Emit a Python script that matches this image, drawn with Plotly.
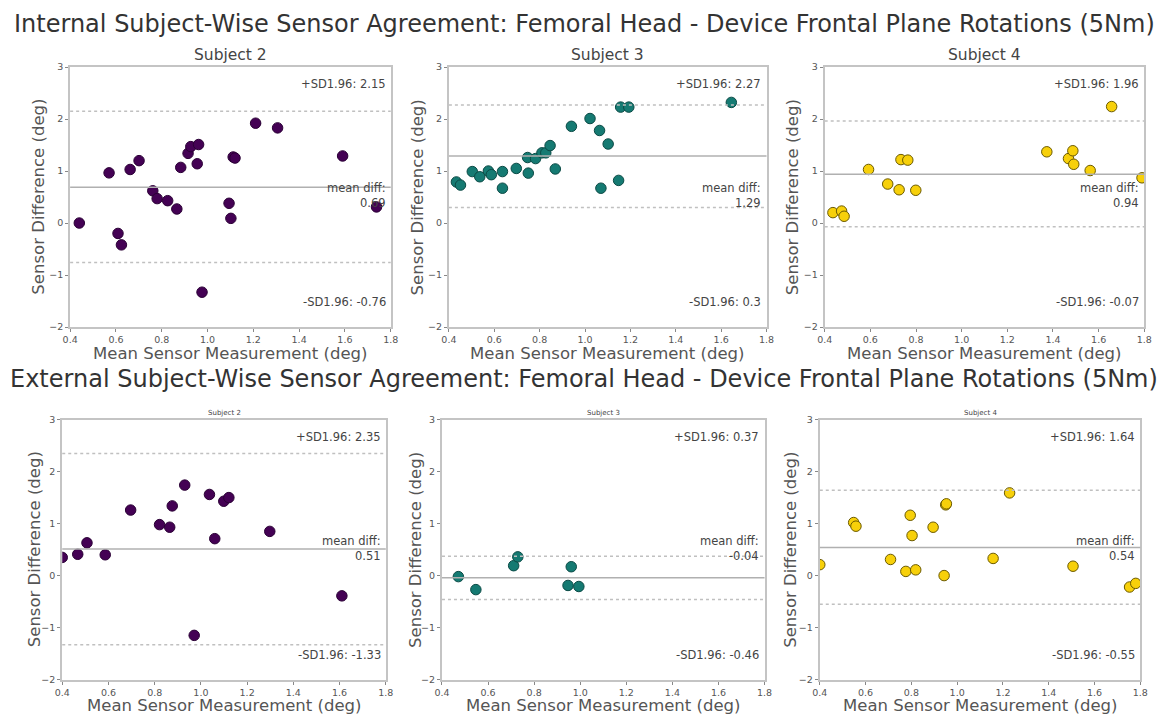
import plotly.graph_objects as go

# ---------------- data ----------------
int_s2_x = [0.44, 0.57, 0.609, 0.624, 0.662, 0.701, 0.761, 0.78, 0.826, 0.866, 0.883, 0.915, 0.927,
            0.961, 0.955, 0.976, 1.094, 1.102, 1.112, 1.12, 1.21, 1.306, 1.59, 1.738]
int_s2_y = [0.0, 0.965, -0.20, -0.42, 1.03, 1.20, 0.62, 0.47, 0.43, 0.27, 1.07, 1.34, 1.47,
            1.51, 1.14, -1.33, 0.38, 0.09, 1.27, 1.25, 1.92, 1.83, 1.29, 0.31]

int_s3_x = [0.433, 0.451, 0.503, 0.536, 0.574, 0.587, 0.636, 0.636, 0.697, 0.747, 0.750, 0.782,
            0.810, 0.827, 0.846, 0.869, 0.940, 1.022, 1.064, 1.070, 1.102, 1.148, 1.157, 1.193, 1.645]
int_s3_y = [0.79, 0.73, 0.99, 0.89, 1.00, 0.93, 0.99, 0.67, 1.05, 1.26, 0.96, 1.24,
            1.35, 1.35, 1.49, 1.04, 1.86, 2.01, 1.78, 0.67, 1.52, 0.82, 2.23, 2.23, 2.32]

int_s4_x = [0.436, 0.474, 0.485, 0.592, 0.676, 0.726, 0.734, 0.764, 0.799, 1.373, 1.468, 1.487,
            1.491, 1.563, 1.657, 1.79]
int_s4_y = [0.20, 0.23, 0.13, 1.03, 0.75, 0.64, 1.22, 1.21, 0.63, 1.37, 1.24, 1.39,
            1.13, 1.01, 2.24, 0.87]

ext_s2_x = [0.40, 0.467, 0.507, 0.586, 0.696, 0.821, 0.865, 0.876, 0.93, 0.971, 1.037, 1.06,
            1.099, 1.121, 1.298, 1.61]
ext_s2_y = [0.35, 0.41, 0.63, 0.40, 1.26, 0.98, 0.93, 1.34, 1.74, -1.15, 1.56, 0.71,
            1.43, 1.50, 0.85, -0.39]

ext_s3_x = [0.471, 0.547, 0.711, 0.729, 0.947, 0.961, 0.994]
ext_s3_y = [-0.02, -0.27, 0.19, 0.36, -0.19, 0.17, -0.21]

ext_s4_x = [0.40, 0.548, 0.558, 0.709, 0.776, 0.795, 0.803, 0.819, 0.895, 0.943, 0.95, 0.953,
            1.157, 1.229, 1.506, 1.753, 1.78]
ext_s4_y = [0.21, 1.02, 0.95, 0.31, 0.08, 1.16, 0.77, 0.11, 0.93, 0.00, 1.36, 1.38,
            0.33, 1.59, 0.18, -0.22, -0.15]

subjects = ["Subject 2", "Subject 3", "Subject 4"]
int_mean = [0.69, 1.29, 0.94]
int_upper = [2.15, 2.27, 1.96]
int_lower = [-0.76, 0.3, -0.07]
ext_mean = [0.51, -0.04, 0.54]
ext_upper = [2.35, 0.37, 1.64]
ext_lower = [-1.33, -0.46, -0.55]

title_int = "Internal Subject-Wise Sensor Agreement: Femoral Head - Device Frontal Plane Rotations (5Nm)"
title_ext = "External Subject-Wise Sensor Agreement: Femoral Head - Device Frontal Plane Rotations (5Nm)"
x_tick_vals = [0.4, 0.6, 0.8, 1.0, 1.2, 1.4, 1.6, 1.8]
y_tick_vals = [-2, -1, 0, 1, 2, 3]

# ---------------- layout geometry ----------------
W, H = 1173, 721
colors = ["#440154", "#157a72", "#f7d00a"]
edge_colors = ["#2a0035", "#0b4a45", "#6b5a00"]

panels = [
    (int_s2_x, int_s2_y, int_mean[0], int_upper[0], int_lower[0], 0, 63, 388, 62, 326, False),
    (int_s3_x, int_s3_y, int_mean[1], int_upper[1], int_lower[1], 1, 447, 769, 62, 326, False),
    (int_s4_x, int_s4_y, int_mean[2], int_upper[2], int_lower[2], 2, 828, 1152, 62, 326, False),
    (ext_s2_x, ext_s2_y, ext_mean[0], ext_upper[0], ext_lower[0], 0, 55, 383, 420, 684, True),
    (ext_s3_x, ext_s3_y, ext_mean[1], ext_upper[1], ext_lower[1], 1, 440, 767, 420, 684, True),
    (ext_s4_x, ext_s4_y, ext_mean[2], ext_upper[2], ext_lower[2], 2, 823, 1148, 420, 684, True),
]

fig = go.Figure()
annotations = []
shapes = []
layout_axes = {}

font_family = "DejaVu Sans, Verdana, sans-serif"

for i, (xs, ys, m, up, lo, ci, pl, pr, pt, pb, small) in enumerate(panels):
    n = i + 1
    xa = "x" if n == 1 else f"x{n}"
    ya = "y" if n == 1 else f"y{n}"
    xkey = "xaxis" if n == 1 else f"xaxis{n}"
    ykey = "yaxis" if n == 1 else f"yaxis{n}"

    fig.add_trace(go.Scatter(
        x=xs, y=ys, mode="markers", xaxis=xa, yaxis=ya, showlegend=False,
        marker=dict(size=10.5, color=colors[ci], line=dict(width=1, color=edge_colors[ci])),
        cliponaxis=True,
    ))

    axis_common = dict(showgrid=False, zeroline=False, showline=True, mirror=True,
                       linecolor="#c4c4c4", linewidth=2, ticks="outside", ticklen=3,
                       tickcolor="#888", tickfont=dict(size=9.5, color="#555", family=font_family))
    layout_axes[xkey] = dict(axis_common, domain=[pl / W, pr / W], range=[0.4, 1.8],
                             tickvals=x_tick_vals, tickformat=".1f", anchor=ya)
    layout_axes[ykey] = dict(axis_common, domain=[1 - pb / H, 1 - pt / H], range=[-2, 3],
                             tickvals=y_tick_vals, anchor=xa)

    xd = f"{xa} domain"
    yd = f"{ya} domain"
    shapes.append(dict(type="line", xref=xd, yref=ya, x0=0, x1=1, y0=m, y1=m,
                       line=dict(color="#b0b0b0", width=1.5)))
    for v in (up, lo):
        shapes.append(dict(type="line", xref=xd, yref=ya, x0=0, x1=1, y0=v, y1=v,
                           line=dict(color="#c0c0c0", width=1.5, dash="dot")))

    tf = dict(size=11.5, color="#444", family=font_family)
    annotations.append(dict(xref=xd, yref=yd, x=0.99, y=0.934, xanchor="right", yanchor="middle",
                            text=f"+SD1.96: {up:g}", showarrow=False, font=tf))
    annotations.append(dict(xref=xd, yref=yd, x=0.99, y=0.505, xanchor="right", yanchor="middle",
                            align="right", text=f"mean diff:<br>{m:g}", showarrow=False, font=tf))
    annotations.append(dict(xref=xd, yref=yd, x=0.99, y=0.095, xanchor="right", yanchor="middle",
                            text=f"-SD1.96: {lo:g}", showarrow=False, font=tf))

    cx = (pl + pr) / 2 / W
    if small:
        annotations.append(dict(xref="paper", yref="paper", x=cx, y=1 - 413 / H, xanchor="center",
                                yanchor="middle", text=subjects[ci], showarrow=False,
                                font=dict(size=7, color="#444", family=font_family)))
    else:
        annotations.append(dict(xref="paper", yref="paper", x=cx, y=1 - 50 / H, xanchor="center",
                                yanchor="middle", text=subjects[ci], showarrow=False,
                                font=dict(size=15.5, color="#444", family=font_family)))

    xt_y = 353 if not small else 710
    annotations.append(dict(xref="paper", yref="paper", x=cx, y=1 - xt_y / H, xanchor="center",
                            yanchor="middle", text="Mean Sensor Measurement (deg)", showarrow=False,
                            font=dict(size=16.5, color="#555", family=font_family)))
    yt_x = [30, 415, 795, 27, 413, 793][i]
    annotations.append(dict(xref="paper", yref="paper", x=yt_x / W, y=1 - ((pt + pb) / 2) / H,
                            xanchor="center", yanchor="middle", textangle=-90,
                            text="Sensor Difference (deg)", showarrow=False,
                            font=dict(size=16.5, color="#555", family=font_family)))

annotations.append(dict(xref="paper", yref="paper", x=584 / W, y=1 - 18 / H, xanchor="center",
                        yanchor="middle", text=title_int, showarrow=False,
                        font=dict(size=24, color="#333", family=font_family)))
annotations.append(dict(xref="paper", yref="paper", x=584 / W, y=1 - 379 / H, xanchor="center",
                        yanchor="middle", text=title_ext, showarrow=False,
                        font=dict(size=24, color="#333", family=font_family)))

fig.update_layout(
    width=W, height=H, margin=dict(l=0, r=0, t=0, b=0),
    paper_bgcolor="white", plot_bgcolor="white",
    annotations=annotations, shapes=shapes, **layout_axes,
)

fig.write_html("out.html", config={"displayModeBar": False},
               post_script="document.body.style.margin='0';")
